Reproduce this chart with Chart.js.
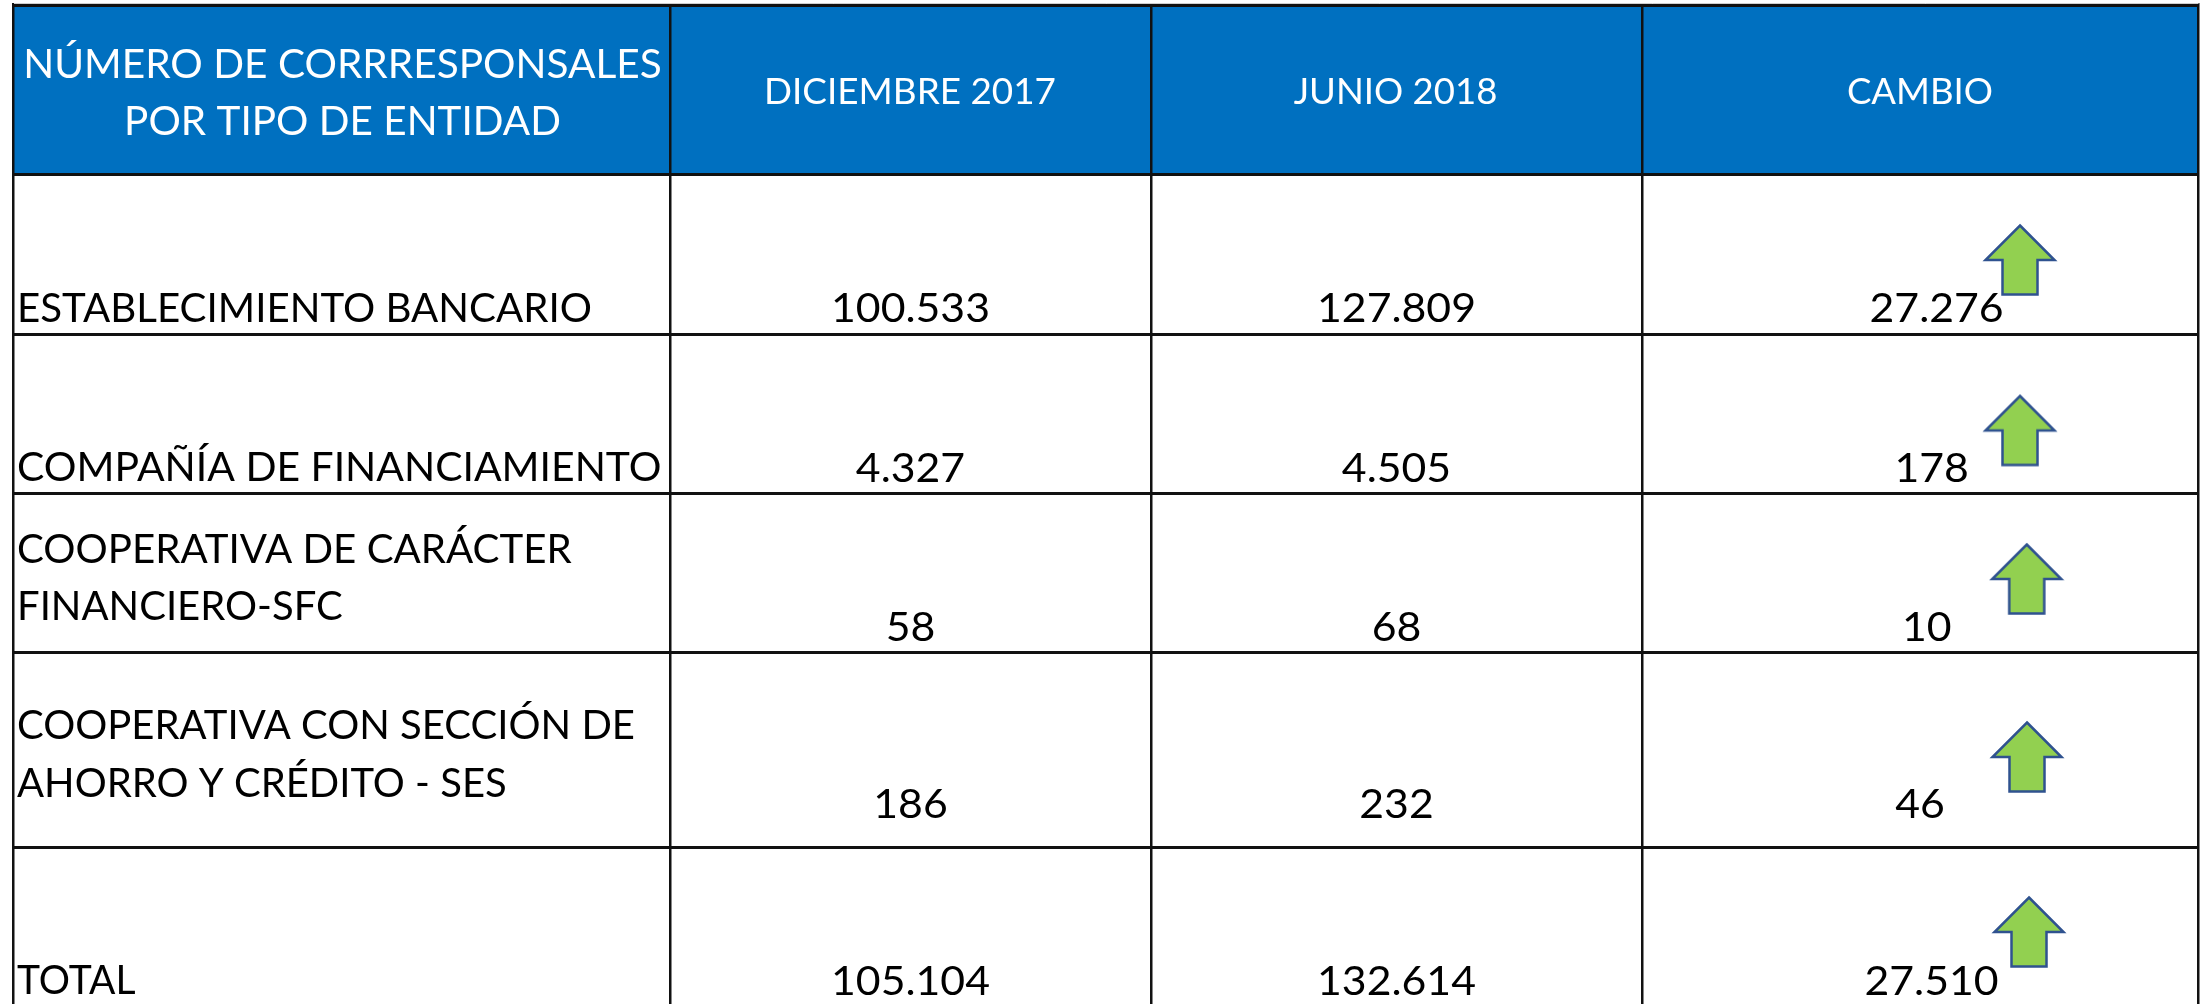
<!DOCTYPE html>
<html lang="es">
<head>
<meta charset="utf-8">
<title>Número de corresponsales por tipo de entidad</title>
<script src="https://cdn.jsdelivr.net/npm/chart.js@4"></script>
<style>html,body{margin:0;padding:0;background:#fff}canvas{display:block}</style>
</head>
<body>
<canvas id="c" width="2210" height="1004"></canvas>
<script>
// ---- Table content ----
const titleLines = ['NÚMERO DE CORRRESPONSALES', 'POR TIPO DE ENTIDAD'];
const columnHeaders = ['DICIEMBRE 2017', 'JUNIO 2018', 'CAMBIO'];
const categories = [
  ['ESTABLECIMIENTO BANCARIO'],
  ['COMPAÑÍA DE FINANCIAMIENTO'],
  ['COOPERATIVA DE CARÁCTER', 'FINANCIERO-SFC'],
  ['COOPERATIVA CON SECCIÓN DE', 'AHORRO Y CRÉDITO - SES'],
  ['TOTAL']
];
const diciembre2017 = [100533, 4327, 58, 186, 105104];
const junio2018 = [127809, 4505, 68, 232, 132614];
const cambio = [27276, 178, 10, 46, 27510];

// ---- Layout (scale units equal page pixels) ----
const colEdges = [13.5, 670, 1151, 1642, 2198.5];
const rowEdges = [5.5, 174.5, 334, 493, 652.5, 847];
const edgeShade = 3.5;
const headerBaseline = 103.5;
const titleBaselines = [77.5, 135];
const titleCenter = 342.5;
const headerCenters = [910, 1395.5, 1920];
const valueBaselines = [321.7, 481.7, 640.7, 817.7, 994.5];
const labelLeft = 17;
const labelBaselines = [[321.7], [480.7], [562.7, 620], [739.3, 796.7], [994]];
const col1Center = 910.5;
const col2Center = 1396.5;
const changeCenters = [1936.6, 1931.7, 1926.7, 1920, 1931.5];
const arrowX = [2020, 2020, 2026.7, 2027, 2029];
const arrowY = [260, 430.5, 579, 757, 932];

// Horizontal fit of Lato to the reference's narrower capitals
const titleFit = [0.978, 0.975];
const headerFit = [1.01, 1.0, 1.0];
const labelFit = [0.97, 0.985, 0.97, 0.965, 0.965, 0.964, 0.94];
const digitFit = 1.03;

const FONT_BODY = '41.5px Lato';
const FONT_HEAD = '36.5px Lato';
const LINE = '#111111';

const fmt = n => String(n).replace(/\B(?=(\d{3})+(?!\d))/g, '.');

// Up-arrow marker
function makeArrow() {
  const W = 76, H = 74, c = document.createElement('canvas');
  c.width = W; c.height = H;
  const g = c.getContext('2d'), cx = W / 2, top = 2.5, barb = 37, bot = 71.5, hw = 34.5, sw = 17.5;
  g.beginPath();
  g.moveTo(cx, top);
  g.lineTo(cx + hw, barb);
  g.lineTo(cx + sw, barb);
  g.lineTo(cx + sw, bot);
  g.lineTo(cx - sw, bot);
  g.lineTo(cx - sw, barb);
  g.lineTo(cx - hw, barb);
  g.closePath();
  g.fillStyle = '#92D050';
  g.fill();
  g.lineWidth = 2.5;
  g.strokeStyle = '#2F528F';
  g.stroke();
  return c;
}

// Text layer: writes dataset.cellText at each of the dataset's points
const cellText = {
  id: 'cellText',
  afterDraw(chart) {
    const ctx = chart.ctx;
    chart.data.datasets.forEach((ds, i) => {
      if (!ds.cellText) return;
      const pts = chart.getDatasetMeta(i).data;
      ctx.save();
      ctx.font = ds.cellFont;
      ctx.fillStyle = ds.cellColor;
      ctx.textAlign = ds.cellAlign;
      ctx.textBaseline = 'alphabetic';
      pts.forEach((p, k) => {
        ctx.save();
        ctx.translate(p.x, p.y);
        ctx.scale(ds.cellFit[k], 1);
        ctx.fillText(ds.cellText[k], 0, 0);
        ctx.restore();
      });
      ctx.restore();
    });
  }
};

const textSet = (label, text, xs, ys, font, color, align, fit) => ({
  type: 'scatter',
  label,
  data: text.map((_, i) => ({ x: xs[i], y: ys[i] })),
  pointRadius: 0,
  pointHoverRadius: 0,
  showLine: false,
  cellText: text,
  cellFont: font,
  cellColor: color,
  cellAlign: align,
  cellFit: fit
});

const labelLines = categories.flat();
const labelYs = labelBaselines.flat();
const digitFits = cambio.map(() => digitFit);

new Chart(document.getElementById('c'), {
  data: {
    datasets: [
      {
        type: 'bar',
        label: 'Encabezado',
        data: [{ x: (colEdges[0] + colEdges[4]) / 2, y: [rowEdges[0], rowEdges[1]] }],
        backgroundColor: '#0070C0',
        borderWidth: 0,
        barThickness: colEdges[4] - colEdges[0],
        grouped: false
      },
      {
        type: 'scatter',
        label: 'Aumento',
        data: cambio.map((_, i) => ({ x: arrowX[i], y: arrowY[i] })),
        pointStyle: makeArrow(),
        pointRadius: 38,
        showLine: false
      },
      textSet('Título', titleLines, titleLines.map(() => titleCenter), titleBaselines, FONT_BODY, '#ffffff', 'center', titleFit),
      textSet('Columnas', columnHeaders, headerCenters, columnHeaders.map(() => headerBaseline), FONT_HEAD, '#ffffff', 'center', headerFit),
      textSet('Tipo de entidad', labelLines, labelLines.map(() => labelLeft), labelYs, FONT_BODY, '#000000', 'left', labelFit),
      textSet('Diciembre 2017', diciembre2017.map(fmt), diciembre2017.map(() => col1Center), valueBaselines, FONT_BODY, '#000000', 'center', digitFits),
      textSet('Junio 2018', junio2018.map(fmt), junio2018.map(() => col2Center), valueBaselines, FONT_BODY, '#000000', 'center', digitFits),
      textSet('Cambio', cambio.map(fmt), changeCenters, valueBaselines, FONT_BODY, '#000000', 'center', digitFits)
    ]
  },
  plugins: [cellText],
  options: {
    responsive: false,
    animation: false,
    events: [],
    layout: { autoPadding: false, padding: { left: 13.5, right: 11.5, top: 3, bottom: 0 } },
    plugins: { legend: { display: false }, tooltip: { enabled: false }, title: { display: false } },
    scales: {
      x: {
        type: 'linear', min: 13.5, max: 2198.5, offset: false,
        afterBuildTicks: s => { s.ticks = colEdges.map(v => ({ value: v })); },
        ticks: { display: false },
        border: { display: false },
        grid: { z: 1, offset: false, color: LINE, lineWidth: 2.5, drawTicks: false }
      },
      y: {
        type: 'linear', reverse: true, min: 3, max: 1004, offset: false,
        afterBuildTicks: s => { s.ticks = [edgeShade, ...rowEdges].map(v => ({ value: v })); },
        ticks: { display: false },
        border: { display: false },
        grid: {
          z: 1, offset: false, drawTicks: false,
          color: c => (c.tick && c.tick.value === edgeShade ? '#cfcfcf' : LINE),
          lineWidth: c => (c.tick && c.tick.value === edgeShade ? 1 : 3)
        }
      }
    }
  }
});
</script>
</body>
</html>
